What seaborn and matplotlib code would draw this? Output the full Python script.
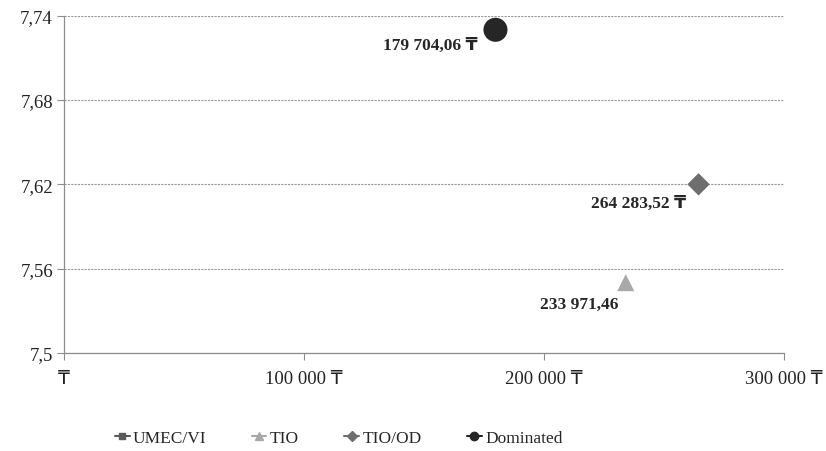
import pandas as pd
import matplotlib.pyplot as plt
from matplotlib.lines import Line2D
import seaborn as sns

# cost (tenge) vs effectiveness per strategy
strategies = ["UMEC/VI", "TIO", "TIO/OD", "Dominated"]
costs = [None, 233971.46, 264283.52, 179704.06]
effects = [None, 7.55, 7.62, 7.73]
point_labels = ["", "233 971,46", "264 283,52 ₸", "179 704,06 ₸"]
x_ticks = [0, 100000, 200000, 300000]
x_tick_labels = ["₸", "100 000 ₸", "200 000 ₸", "300 000 ₸"]
y_ticks = [7.5, 7.56, 7.62, 7.68, 7.74]
y_tick_labels = ["7,5", "7,56", "7,62", "7,68", "7,74"]

colors = ["#5a5a5a", "#a9a9a9", "#6e6e6e", "#262626"]
markers = ["s", "^", "D", "o"]
sizes = [40, 150, 130, 300]

df = pd.DataFrame({"Strategy": strategies, "Cost": costs, "Effect": effects})
df = df.dropna()

sns.set_style("white")
plt.rcParams['font.family'] = ['Liberation Serif', 'DejaVu Sans']

fig = plt.figure(figsize=(8.26, 4.52), dpi=100)
ax = fig.add_axes([0.0775, 0.217, 0.872, 0.746])

for i, s in enumerate(strategies):
    sub = df[df["Strategy"] == s]
    if len(sub) == 0:
        continue
    sns.scatterplot(data=sub, x="Cost", y="Effect", ax=ax, color=colors[i],
                    marker=markers[i], s=sizes[i], edgecolor="none",
                    legend=False, zorder=3)

# data labels
offsets = {"TIO": (-5, -15), "TIO/OD": (-9, -13), "Dominated": (-13, -11)}
for s, c, e, lab in zip(strategies, costs, effects, point_labels):
    if c is None:
        continue
    dx, dy = offsets[s]
    ax.annotate(lab, (c, e), xytext=(dx, dy), textcoords="offset points",
                ha="right", va="center", fontsize=12.5, fontweight="bold",
                family=['Liberation Serif', 'DejaVu Sans'])

ax.set_xlim(0, 300000)
ax.set_ylim(7.5, 7.74)
ax.set_xticks(x_ticks)
ax.set_xticklabels(x_tick_labels, fontsize=13.5)
ax.set_yticks(y_ticks)
ax.set_yticklabels(y_tick_labels, fontsize=13.5)
ax.set_xlabel("")
ax.set_ylabel("")
ax.yaxis.grid(True, color="#9a9a9a", linestyle=(0, (2, 1)), linewidth=0.8)
ax.xaxis.grid(False)
for side in ["top", "right"]:
    ax.spines[side].set_visible(False)
for side in ["left", "bottom"]:
    ax.spines[side].set_color("#8c8c8c")
    ax.spines[side].set_linewidth(0.9)
ax.tick_params(axis="both", which="both", direction="out", length=5,
               color="#8c8c8c", left=True, bottom=True, colors="#222222")
ax.tick_params(axis="x", pad=7)
ax.tick_params(axis="y", pad=3)

handles = [Line2D([0], [0], color=colors[i], marker=markers[i], markersize=ms, lw=1.5)
           for i, ms in enumerate([4, 6, 5, 6])]
fig.legend(handles, strategies, loc="center", bbox_to_anchor=(0.41, 0.028), ncol=4,
           frameon=False, fontsize=12.5, handlelength=0.85, handletextpad=0.2,
           columnspacing=2.6)

plt.savefig("out.png", dpi=100)
